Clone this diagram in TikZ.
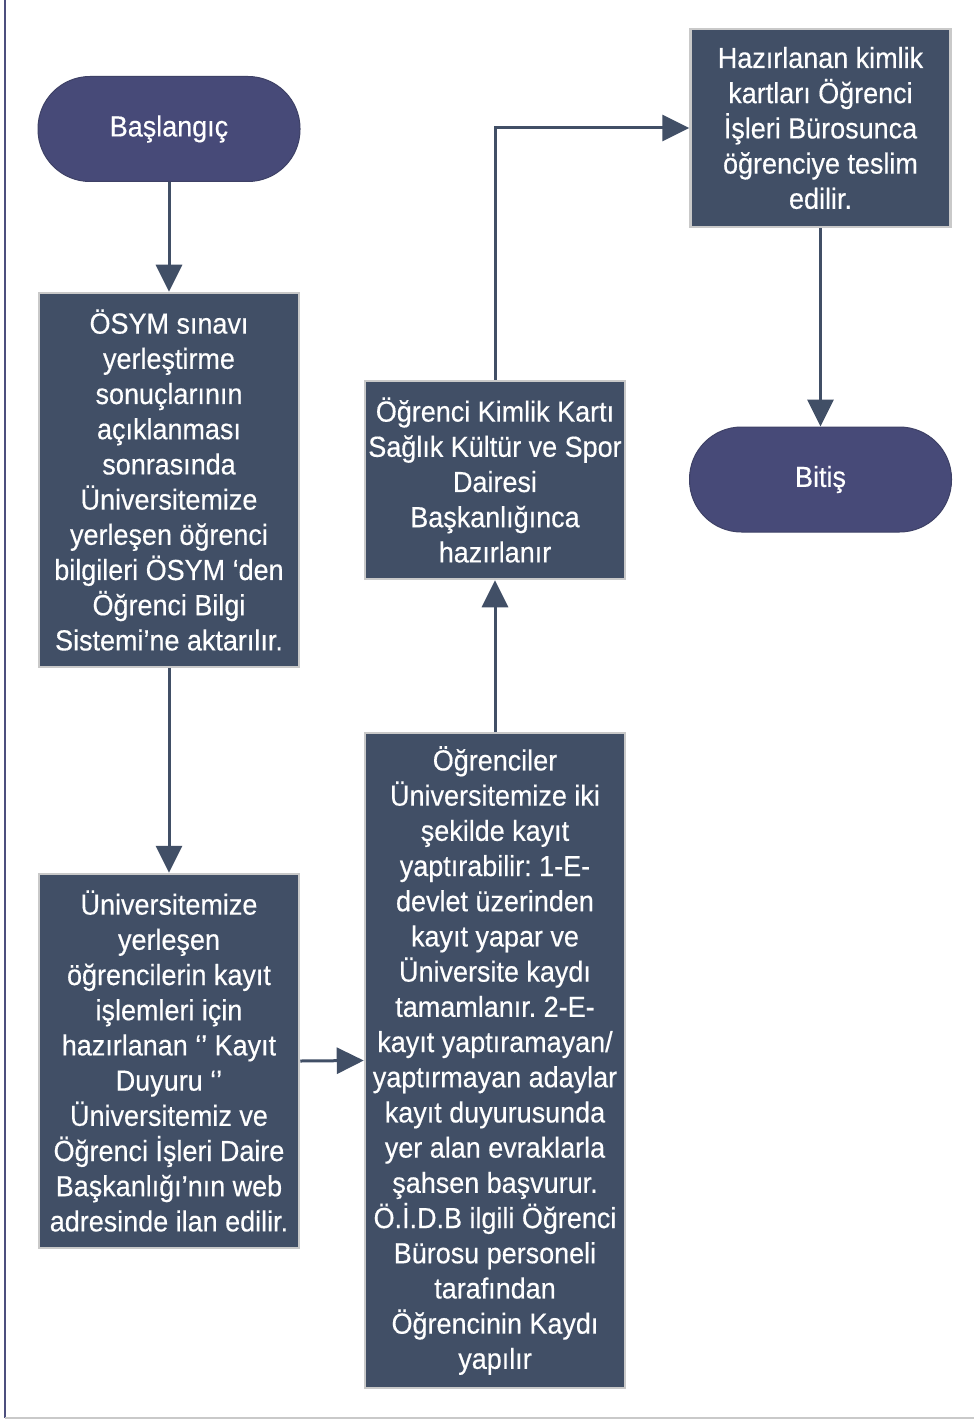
\documentclass[tikz,border=0pt]{standalone}
\usepackage{fontspec}
\setmainfont{Liberation Sans}[FakeStretch=0.93,FakeBold=0.4]
\usetikzlibrary{arrows.meta}
\definecolor{boxfill}{HTML}{414F66}
\definecolor{termfill}{HTML}{474A78}
\definecolor{boxedge}{HTML}{C9C9C9}
\definecolor{termedge}{HTML}{3E4166}
\definecolor{arrowcol}{HTML}{414F66}
\definecolor{leftline}{HTML}{4C4F7E}
\frenchspacing
\begin{document}
\begin{tikzpicture}[x=1pt,y=-1pt,
  txt/.style={text=white,font=\fontsize{29}{35.2}\selectfont,align=center,inner sep=0pt},
  procbox/.style={txt,fill=boxfill,draw=boxedge,line width=2.5pt,minimum width=260pt},
  term/.style={txt,fill=termfill,draw=termedge,line width=1pt,rounded corners=52pt,minimum width=262pt,minimum height=105pt},
  conn/.style={draw=arrowcol,line width=3pt,-{Triangle[length=27pt,width=26pt]}}]
\useasboundingbox (0,0) rectangle (974,1420);
\fill[white] (0,0) rectangle (974,1420);
\draw[leftline,line width=2pt] (5,0) -- (5,1418);
\draw[boxedge,line width=2pt] (5,1418) -- (974,1418);

\node[term] (start) at (169,129) {Başlangıç};
\node[procbox,minimum height=374pt] (b1) at (169,480) {ÖSYM sınavı\\ yerleştirme\\ sonuçlarının\\ açıklanması\\ sonrasında\\ Üniversitemize\\ yerleşen öğrenci\\ bilgileri ÖSYM ‘den\\ Öğrenci Bilgi\\ Sistemi’ne aktarılır.};
\node[procbox,minimum height=374pt] (b2) at (169,1061) {Üniversitemize\\ yerleşen\\ öğrencilerin kayıt\\ işlemleri için\\ hazırlanan ‘’ Kayıt\\ Duyuru ‘’\\ Üniversitemiz ve\\ Öğrenci İşleri Daire\\ Başkanlığı’nın web\\ adresinde ilan edilir.};
\node[procbox,minimum height=655pt] (b3) at (495,1060.5) {Öğrenciler\\ Üniversitemize iki\\ şekilde kayıt\\ yaptırabilir: 1-E-\\ devlet üzerinden\\ kayıt yapar ve\\ Üniversite kaydı\\ tamamlanır. 2-E-\\ kayıt yaptıramayan/\\ yaptırmayan adaylar\\ kayıt duyurusunda\\ yer alan evraklarla\\ şahsen başvurur.\\ Ö.İ.D.B ilgili Öğrenci\\ Bürosu personeli\\ tarafından\\ Öğrencinin Kaydı\\ yapılır};
\node[procbox,minimum height=198pt] (b4) at (495,480) {Öğrenci Kimlik Kartı\\ Sağlık Kültür ve Spor\\ Dairesi\\ Başkanlığınca\\ hazırlanır};
\node[procbox,minimum height=198pt] (b5) at (820.5,128) {Hazırlanan kimlik\\ kartları Öğrenci\\ İşleri Bürosunca\\ öğrenciye teslim\\ edilir.};
\node[term] (end) at (820.5,479.5) {Bitiş};

\draw[conn] (start.south) -- (b1.north);
\draw[conn] (b1.south) -- (b2.north);
\draw[conn] (b2.east) -- (b3.west);
\draw[conn] (b3.north) -- (b4.south);
\draw[conn] (b4.north) |- (b5.west);
\draw[conn] (b5.south) -- (end.north);
\end{tikzpicture}
\end{document}
